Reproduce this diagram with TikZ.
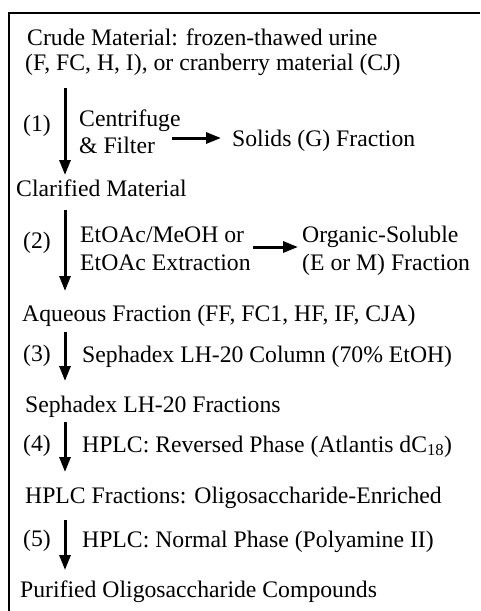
\documentclass[tikz,border=0pt]{standalone}
\usepackage{fontspec}
\setmainfont{Liberation Serif}
\usetikzlibrary{arrows.meta}
\tikzset{
  txt/.style={anchor=base west, inner sep=0pt, font=\fontsize{23.7}{27}\selectfont},
  flow/.style={line width=3pt, -{Triangle[length=15pt, width=11pt]}},
  frame/.style={line width=2pt}
}
\begin{document}
\begin{tikzpicture}[x=1pt, y=-1pt]
\useasboundingbox (0,0) rectangle (480,611);
\draw[frame] (8.5,611) -- (8.5,12.5) -- (480,12.5);
% texts
\node[txt] (l1) at (27,45) {Crude Material: frozen-thawed urine};
\node[txt] (l2) at (25,70) {(F, FC, H, I), or cranberry material (CJ)};
\node[txt] (s1) at (23,131) {(1)};
\node[txt] (c1a) at (79,126) {Centrifuge};
\node[txt] (c1b) at (79,153) {\& Filter};
\node[txt] (solids) at (232,146) {Solids (G) Fraction};
\node[txt] (clar) at (16,196) {Clarified Material};
\node[txt] (s2) at (23,248) {(2)};
\node[txt] (c2a) at (80,242) {EtOAc/MeOH or};
\node[txt] (c2b) at (80,270) {EtOAc Extraction};
\node[txt] (org1) at (302,242) {Organic-Soluble};
\node[txt] (org2) at (302,270) {(E or M) Fraction};
\node[txt] (aq) at (22,321) {Aqueous Fraction (FF, FC1, HF, IF, CJA)};
\node[txt] (s3) at (23,361) {(3)};
\node[txt] (c3) at (82,362) {Sephadex LH-20 Column (70\% EtOH)};
\node[txt] (seph) at (25,412) {Sephadex LH-20 Fractions};
\node[txt] (s4) at (23,451) {(4)};
\node[txt] (c4) at (82,452) {HPLC: Reversed Phase (Atlantis dC\textsubscript{18})};
\node[txt] (hplc) at (25,503) {HPLC Fractions: Oligosaccharide-Enriched};
\node[txt] (s5) at (23,546) {(5)};
\node[txt] (c5) at (82,547) {HPLC: Normal Phase (Polyamine II)};
\node[txt] (pur) at (20,597) {Purified Oligosaccharide Compounds};
% arrow endpoints
\coordinate (a1s) at (65,88);  \coordinate (a1e) at (65,175);
\coordinate (a2s) at (65,210); \coordinate (a2e) at (65,291);
\coordinate (a3s) at (65,332); \coordinate (a3e) at (65,381);
\coordinate (a4s) at (65,422); \coordinate (a4e) at (65,472);
\coordinate (a5s) at (65,520); \coordinate (a5e) at (65,570);
\coordinate (h1s) at (172,138); \coordinate (h1e) at (221,138);
\coordinate (h2s) at (253,247); \coordinate (h2e) at (298,247);
\draw[flow] (a1s) -- (a1e);
\draw[flow] (a2s) -- (a2e);
\draw[flow] (a3s) -- (a3e);
\draw[flow] (a4s) -- (a4e);
\draw[flow] (a5s) -- (a5e);
\draw[flow] (h1s) -- (h1e);
\draw[flow] (h2s) -- (h2e);
\end{tikzpicture}
\end{document}
